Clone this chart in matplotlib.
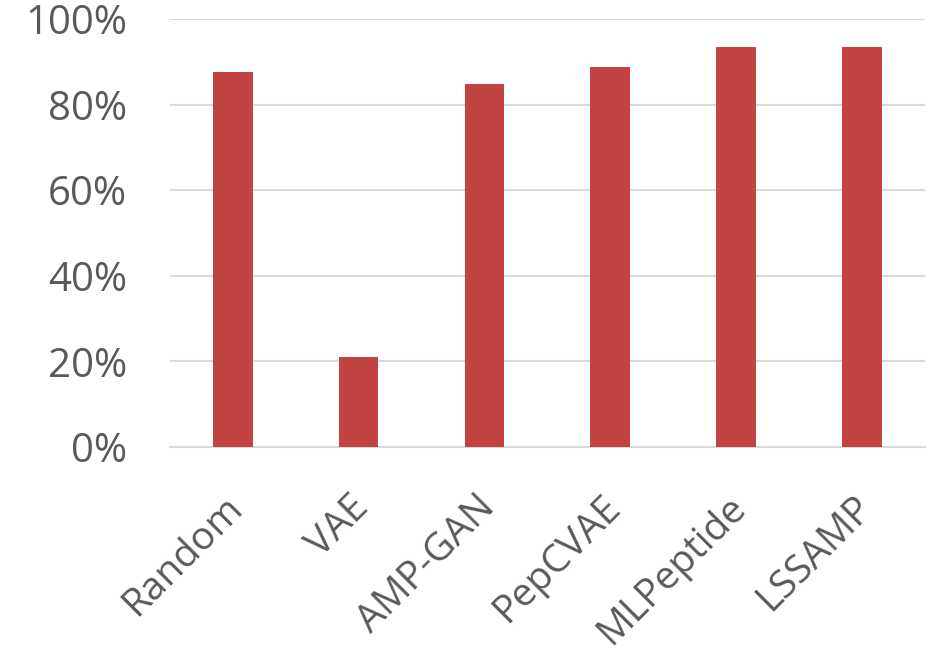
import numpy as np
import matplotlib.pyplot as plt
import matplotlib.transforms as mtransforms
from matplotlib.ticker import PercentFormatter

# data
methods = ['Random', 'VAE', 'AMP-GAN', 'PepCVAE', 'MLPeptide', 'LSSAMP']
scores = [0.876, 0.210, 0.848, 0.888, 0.935, 0.935]
yticks = [0.0, 0.2, 0.4, 0.6, 0.8, 1.0]

plt.rcParams['font.family'] = ['Open Sans', 'DejaVu Sans']

fig = plt.figure(figsize=(9.34, 6.61), dpi=100)
ax = fig.add_axes([0.182, 0.324, 0.808, 0.647])

x = np.arange(len(methods))
ax.bar(x, scores, width=0.315, color='#C24442', zorder=3)

ax.set_ylim(0, 1.0)
ax.set_xlim(-0.5, len(methods) - 0.5)
ax.set_yticks(yticks)
ax.yaxis.set_major_formatter(PercentFormatter(1.0, decimals=0))
ax.grid(axis='y', color='#D9D9D9', linewidth=1.5, zorder=0)
for sp in ax.spines.values():
    sp.set_visible(False)
ax.spines['bottom'].set_visible(True)
ax.spines['bottom'].set_color('#D9D9D9')
ax.spines['bottom'].set_linewidth(1.5)

ax.tick_params(axis='both', length=0, colors='#595959')
ax.tick_params(axis='y', pad=31, labelsize=29)
ax.set_xticks(x)
ax.set_xticklabels(methods, rotation=45, ha='right', rotation_mode='anchor')
ax.tick_params(axis='x', pad=30, labelsize=28)

# nudge the rotated labels a bit to the left
shift = mtransforms.ScaledTranslation(-9 / 100, 0, fig.dpi_scale_trans)
for lbl in ax.get_xticklabels():
    lbl.set_transform(lbl.get_transform() + shift)

fig.savefig('out.png', dpi=100)
